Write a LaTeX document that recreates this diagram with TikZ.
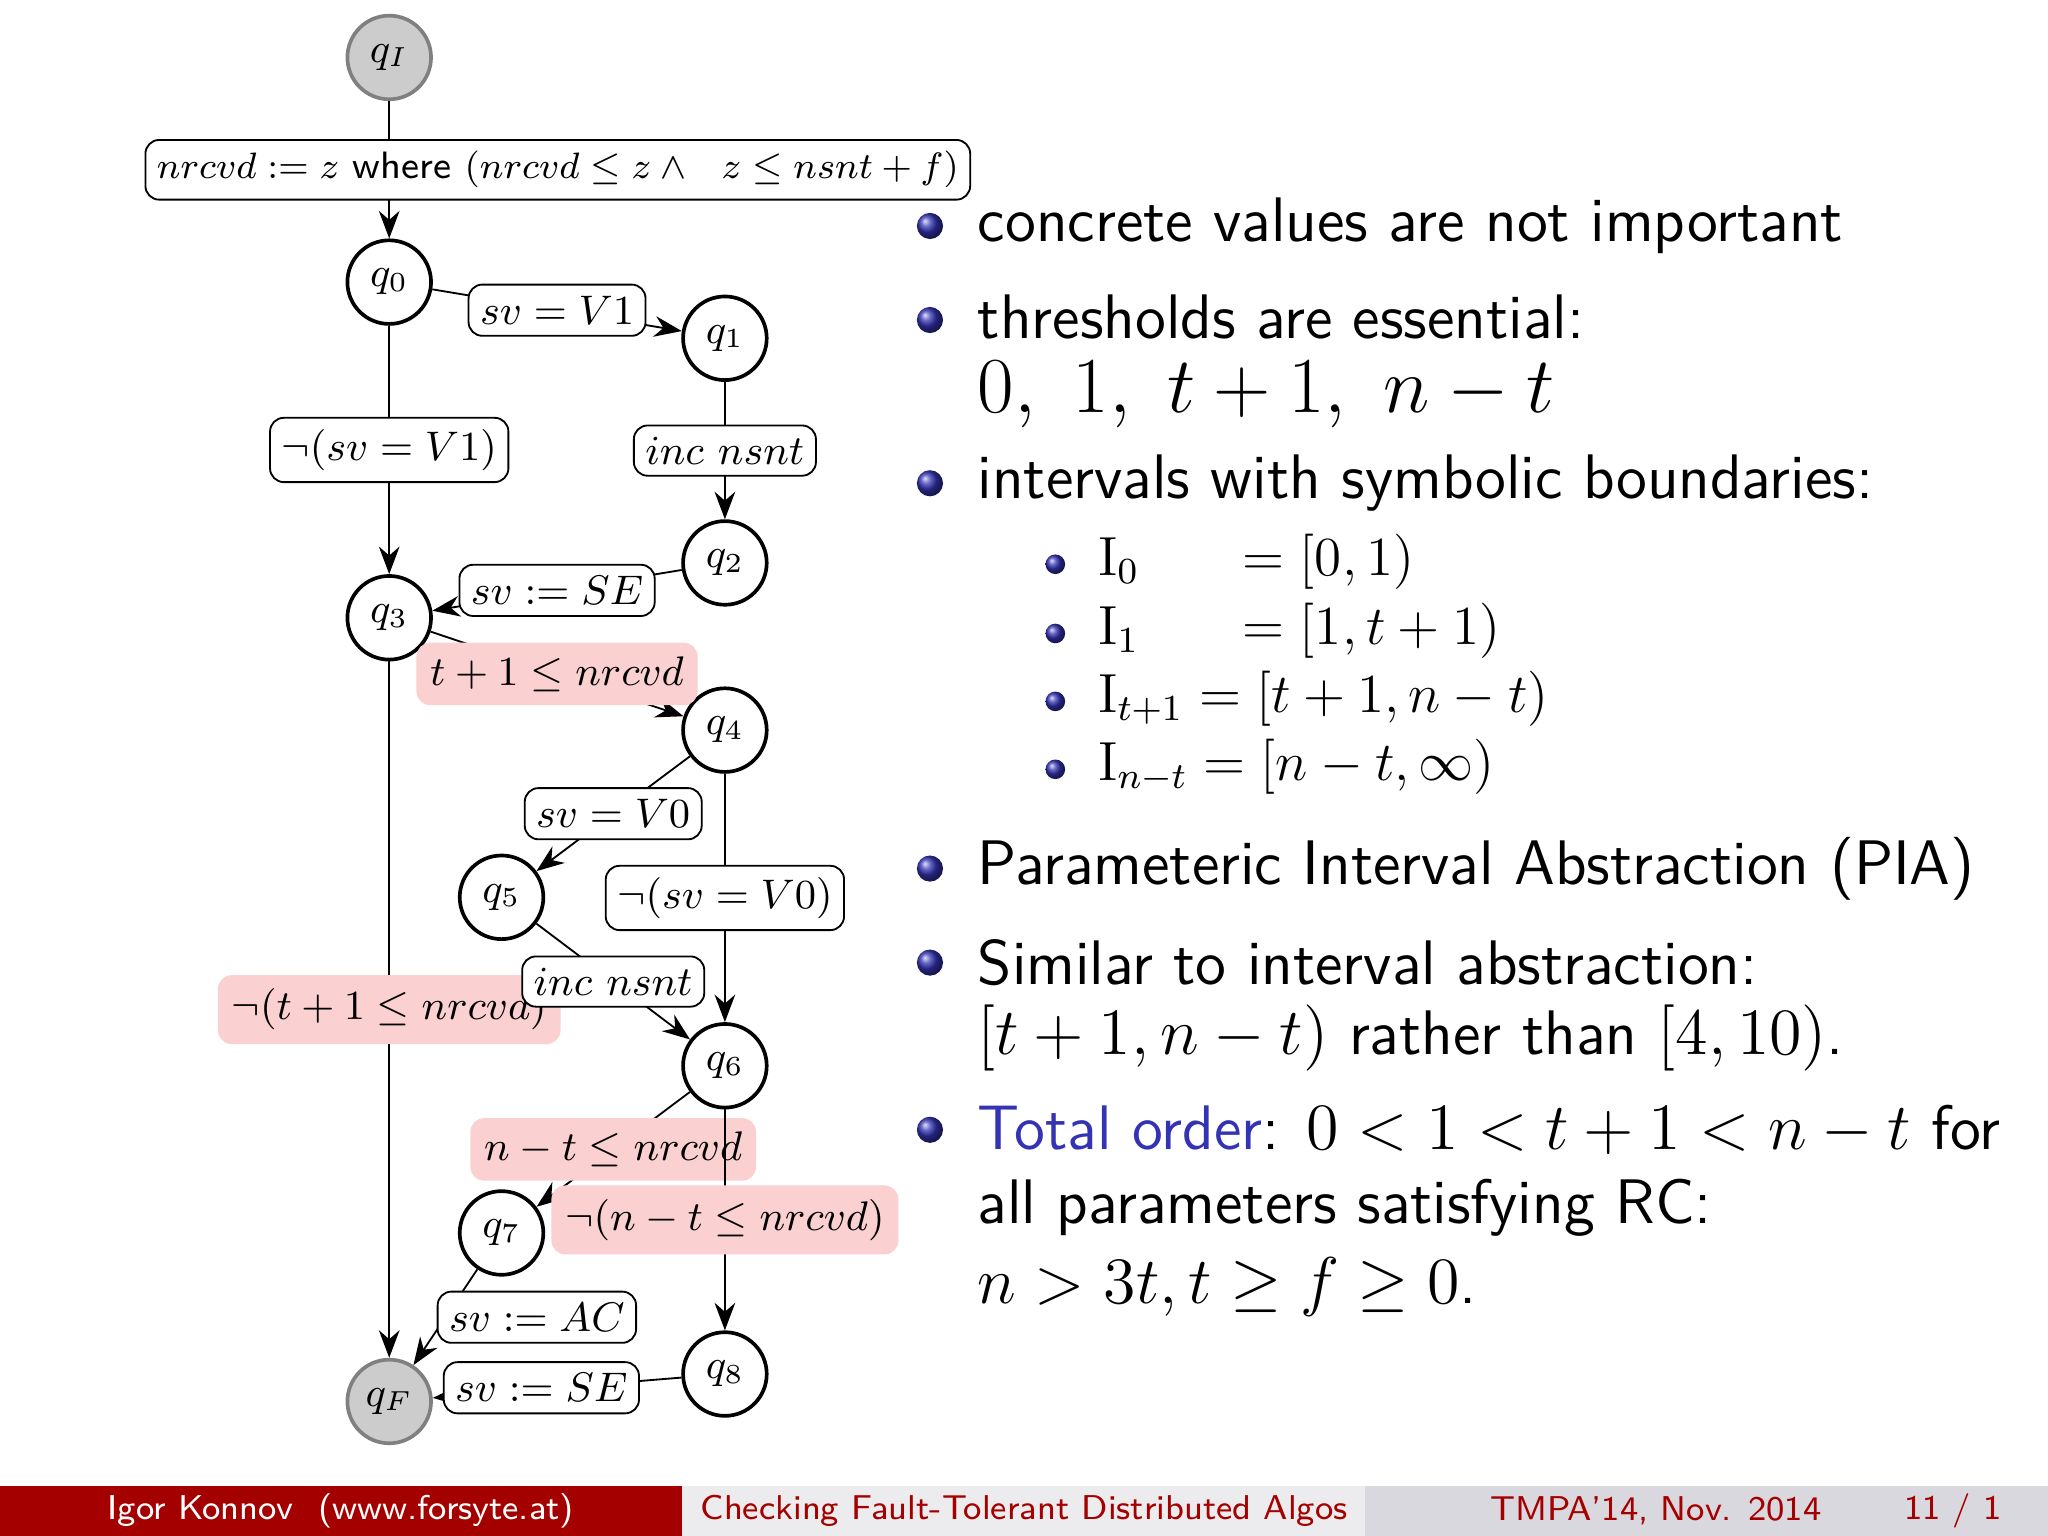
\documentclass[tikz,border=0pt]{standalone}
\usepackage{amsmath}
\usepackage{amssymb}
\usetikzlibrary{arrows.meta,
                positioning,
                shapes}
\definecolor{footred}{RGB}{165,0,0}
\definecolor{footlight}{RGB}{236,236,238}
\definecolor{footgray}{RGB}{216,216,222}
\definecolor{pinkbox}{RGB}{250,208,208}
\definecolor{ordblue}{RGB}{51,51,179}
\begin{document}
\begin{tikzpicture}[x=0.01cm, y=-0.01cm, font=\sffamily, >={Stealth[length=6pt]}]

\useasboundingbox (0,0) rectangle (1568,1176);

%footer
\fill[footred] (0,1138) rectangle (522,1176);
\fill[footlight] (522,1138) rectangle (1045,1176);
\fill[footgray] (1045,1138) rectangle (1568,1176);
\node[white, font=\sffamily\fontsize{7.5}{9}\selectfont] (auth) at (261,1157) {Igor Konnov\ \ (www.forsyte.at)};
\node[footred, font=\sffamily\fontsize{7.5}{9}\selectfont] (ttl) at (784,1157) {Checking Fault-Tolerant Distributed Algos};
\node[footred, font=\sffamily\fontsize{7.5}{9}\selectfont, anchor=east] (conf) at (1407,1157) {TMPA'14, Nov. 2014};
\node[footred, font=\sffamily\fontsize{7.5}{9}\selectfont, anchor=east] (pg) at (1545,1157) {11 / 1};

\begin{scope}[ st/.style = {circle, draw, thick, minimum size=0.64cm, inner sep=0pt, fill=white},
               fin/.style = {st, fill=black!20, draw=black!50},
               lbl/.style = {draw, rounded corners=3pt, fill=white, inner sep=2.5pt},
               plbl/.style = {rounded corners=3pt, fill=pinkbox, inner sep=3pt},
               font=\sffamily\fontsize{9}{10}\selectfont]
    \node[fin] (qI) at (298,44) {$q_I$};
    \node[st] (q0) at (298,216) {$q_0$};
    \node[st] (q1) at (555,259) {$q_1$};
    \node[st] (q2) at (555,431) {$q_2$};
    \node[st] (q3) at (298,473) {$q_3$};
    \node[st] (q4) at (555,559) {$q_4$};
    \node[st] (q5) at (384,687) {$q_5$};
    \node[st] (q6) at (555,816) {$q_6$};
    \node[st] (q7) at (384,944) {$q_7$};
    \node[st] (q8) at (555,1052) {$q_8$};
    \node[fin] (qF) at (298,1073) {$q_F$};

    \draw[->] (qI) -- node[lbl, xshift=1.29cm, font=\sffamily\fontsize{8.3}{10}\selectfont] {$nrcvd := z$ where $(nrcvd \le z \wedge\ \ z \le nsnt + f)$} (q0);
    \draw[->] (q0) -- node[lbl] {$sv = V1$} (q1);
    \draw[->] (q0) -- node[lbl] {$\neg(sv = V1)$} (q3);
    \draw[->] (q1) -- node[lbl] {$inc\ nsnt$} (q2);
    \draw[->] (q2) -- node[lbl] {$sv := SE$} (q3);
    \draw[->] (q3) -- node[plbl] {$t+1 \le nrcvd$} (q4);
    \draw[->] (q3) -- node[plbl] {$\neg(t+1 \le nrcvd)$} (qF);
    \draw[->] (q4) -- node[lbl] {$sv = V0$} (q5);
    \draw[->] (q4) -- node[lbl] {$\neg(sv = V0)$} (q6);
    \draw[->] (q5) -- node[lbl] {$inc\ nsnt$} (q6);
    \draw[->] (q6) -- node[plbl] {$n-t \le nrcvd$} (q7);
    \draw[->] (q6) -- node[plbl] {$\neg(n-t \le nrcvd)$} (q8);
    \draw[->] (q7) -- node[lbl, pos=0.5, xshift=0.7cm] {$sv := AC$} (qF);
    \draw[->] (q8) -- node[lbl, xshift=-0.12cm] {$sv := SE$} (qF);
\end{scope}

\begin{scope}[ bul/.style = {circle, shading=ball, ball color=ordblue, minimum size=0.2cm, inner sep=0pt},
               sbul/.style = {circle, shading=ball, ball color=ordblue, minimum size=0.15cm, inner sep=0pt},
               txt/.style = {anchor=west, font=\sffamily\fontsize{13.7}{16}\selectfont, inner sep=0pt},
               stxt/.style = {anchor=west, font=\rmfamily\fontsize{12}{14}\selectfont, inner sep=0pt}]
    \node[bul] (b1) at (712,173) {};
    \node[txt] (t1) at (748,173) {concrete values are not important};
    \node[bul] (b2) at (712,245) {};
    \node[txt] (t2) at (748,243) {thresholds are essential:};
    \node[txt, font=\sffamily\fontsize{16.5}{20}\selectfont] (t2b) at (748,302) {$0,\ 1,\ t+1,\ n-t$};
    \node[bul] (b3) at (712,370) {};
    \node[txt] (t3) at (748,370) {intervals with symbolic boundaries:};
    \node[sbul] (s1) at (808,432) {};
    \node[stxt] (u1) at (840,430) {$\mathrm{I}_0\phantom{{}_{+1}}\ \ = [0,1)$};
    \node[sbul] (s2) at (808,485) {};
    \node[stxt] (u2) at (840,483) {$\mathrm{I}_1\phantom{{}_{+1}}\ \ = [1,t+1)$};
    \node[sbul] (s3) at (808,537) {};
    \node[stxt] (u3) at (840,535) {$\mathrm{I}_{t+1} = [t+1,n-t)$};
    \node[sbul] (s4) at (808,589) {};
    \node[stxt] (u4) at (840,587) {$\mathrm{I}_{n-t} = [n-t,\infty)$};
    \node[bul] (b4) at (712,665) {};
    \node[txt] (t4) at (748,665) {Parameteric Interval Abstraction (PIA)};
    \node[bul] (b5) at (712,737) {};
    \node[txt] (t5) at (748,737) {Similar to interval abstraction:};
    \node[txt] (t5b) at (748,795) {$[t+1,n-t)$ rather than $[4,10)$.};
    \node[bul] (b6) at (712,865) {};
    \node[txt] (t6) at (748,865) {\textcolor{ordblue}{Total order}: $0 < 1 < t+1 < n-t$ for};
    \node[txt] (t6b) at (748,925) {all parameters satisfying RC:};
    \node[txt] (t6c) at (748,985) {$n > 3t, t \ge f \ge 0$.};
\end{scope}

\end{tikzpicture}
\end{document}
